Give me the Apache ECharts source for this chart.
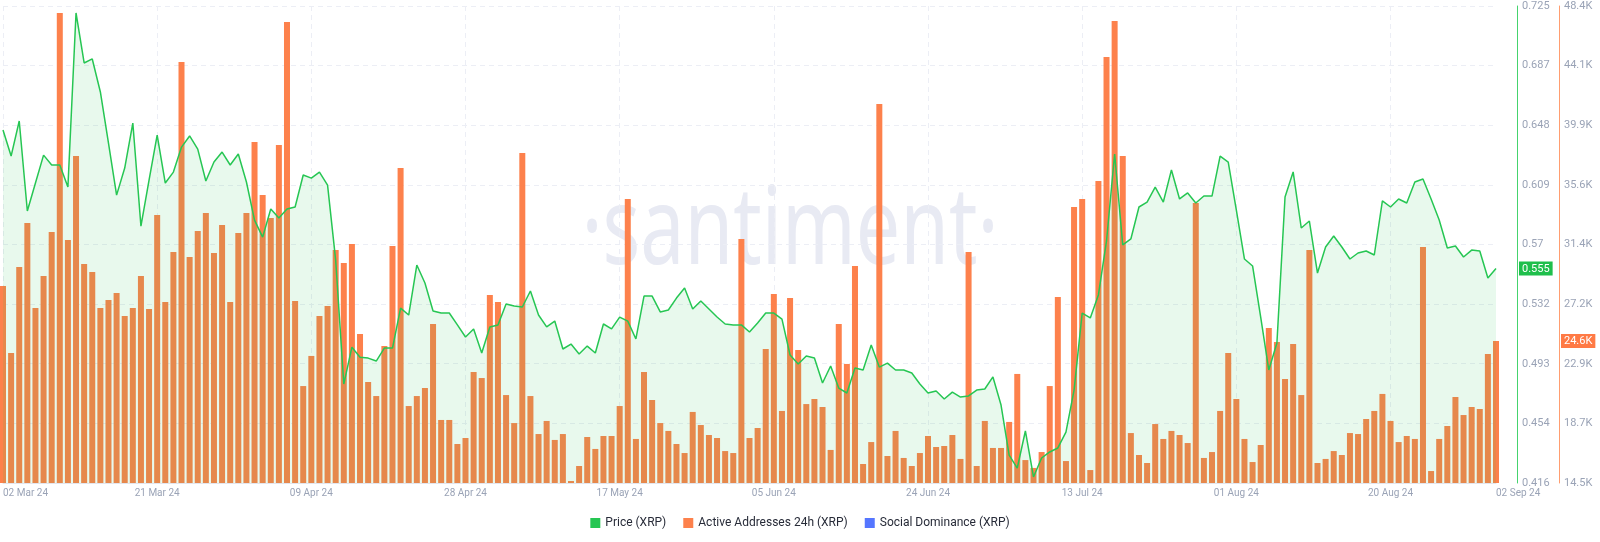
<!DOCTYPE html>
<html>
<head>
<meta charset="utf-8">
<script src="https://cdn.jsdelivr.net/npm/echarts@6/dist/echarts.min.js"></script>
<style>
html,body{margin:0;padding:0;background:#fff;}
#chart{width:1600px;height:542px;}
</style>
</head>
<body>
<div id="chart"></div>
<script>
// ---- data ----
const startDate = [2024, 2, 2]; // 02 Mar 2024 (month index 2)
const dayCount = 185;
const monthNames = ['Jan','Feb','Mar','Apr','May','Jun','Jul','Aug','Sep','Oct','Nov','Dec'];

const priceXRP = [
0.6447,0.6278,0.6505,0.5922,0.6103,0.6284,0.6220,0.6220,0.6077,0.7205,
0.6881,0.6907,0.6693,0.6362,0.6025,0.6200,0.6492,0.5824,0.6122,0.6414,
0.6103,0.6174,0.6336,0.6408,0.6323,0.6116,0.6239,0.6304,0.6220,0.6291,
0.6110,0.5863,0.5753,0.5935,0.5876,0.5935,0.5948,0.6155,0.6135,0.6174,
0.6090,0.5604,0.4801,0.5040,0.4975,0.4969,0.4950,0.5034,0.5034,0.5293,
0.5248,0.5572,0.5456,0.5274,0.5261,0.5261,0.5184,0.5106,0.5158,0.5002,
0.5171,0.5184,0.5320,0.5307,0.5300,0.5404,0.5248,0.5171,0.5209,0.5028,
0.5060,0.4996,0.5047,0.5002,0.5190,0.5158,0.5235,0.5209,0.5093,0.5371,
0.5371,0.5268,0.5281,0.5358,0.5423,0.5287,0.5339,0.5287,0.5235,0.5190,
0.5184,0.5184,0.5138,0.5196,0.5261,0.5261,0.5222,0.4989,0.4931,0.4983,
0.4970,0.4808,0.4918,0.4775,0.4743,0.4905,0.4892,0.5054,0.4911,0.4937,
0.4892,0.4892,0.4873,0.4801,0.4743,0.4756,0.4704,0.4749,0.4717,0.4724,
0.4762,0.4769,0.4847,0.4665,0.4341,0.4257,0.4497,0.4199,0.4322,0.4361,
0.4387,0.4490,0.4762,0.5261,0.5229,0.5378,0.5728,0.6291,0.5702,0.5741,
0.5948,0.5980,0.6077,0.5980,0.6188,0.6000,0.6039,0.5974,0.6019,0.6019,
0.6278,0.6239,0.5928,0.5611,0.5566,0.5235,0.4892,0.5067,0.6013,0.6175,
0.5812,0.5857,0.5520,0.5689,0.5760,0.5689,0.5611,0.5650,0.5663,0.5637,
0.5987,0.5948,0.6000,0.5974,0.6110,0.6129,0.6000,0.5864,0.5682,0.5695,
0.5624,0.5669,0.5663,0.5488,0.5550
];

const activeAddresses = [
28500,23740,29850,32980,26940,29210,32340,47900,31770,37740,
30060,29500,26940,27500,28000,26370,26940,29210,26870,33550,
27360,30920,44420,30560,32410,33690,30850,32840,27360,32270,
33690,38740,34970,33330,38520,47260,27430,21390,23530,26370,
27080,31060,30140,31490,25090,21680,20680,24240,31340,36890,
19970,20680,21250,25800,18980,18980,17270,17700,22390,21960,
27860,27360,20750,18760,37950,20680,17980,18910,17560,17980,
14640,15710,17770,16920,17840,17840,19970,34680,17630,22390,
20400,18760,18200,17270,16630,19550,18620,17910,17700,16770,
16630,31840,17700,18410,24020,27930,19620,27650,23950,20110,
20470,19900,16850,25800,22960,29920,15850,17410,41440,16420,
18200,16280,15710,16630,17840,17060,17130,17910,16210,30920,
15710,18910,16990,16990,18840,22250,16130,15570,16700,21390,
27720,16060,34120,34680,15420,35960,44780,47330,37740,18050,
16490,15920,18690,17630,18200,17910,17340,34400,16280,16700,
19620,23740,20470,17630,15990,17200,25520,24520,21890,24380,
20750,31060,15920,16210,16770,16490,18050,17980,19050,19620,
20830,18910,17410,17840,17630,31270,15350,17630,18550,20610,
19330,19900,19760,23670,24600
];

const socialDominance = [];

const priceTickLabels = ['0.416','0.454','0.493','0.532','0.57','0.609','0.648','0.687','0.725'];
const activeTickLabels = ['14.5K','18.7K','22.9K','27.2K','31.4K','35.6K','39.9K','44.1K','48.4K'];
const priceMin = 0.416, priceMax = 0.725;
const activeMin = 14500, activeMax = 48400;

// ---- categories (daily dates) ----
const dates = [];
for (let i = 0; i < dayCount; i++) {
  const d = new Date(Date.UTC(startDate[0], startDate[1], startDate[2] + i));
  const dd = String(d.getUTCDate()).padStart(2, '0');
  dates.push(dd + ' ' + monthNames[d.getUTCMonth()] + ' ' + String(d.getUTCFullYear()).slice(2));
}

const FONT = 'Roboto, "Noto Sans", Arial, sans-serif';
const GREEN = '#26c653';
const ORANGE = '#fd814c';
const BLUE = '#5576ff';
const AXIS_TEXT = '#9aa3b6';
const GRID = '#eceef5';

const priceInterval = (priceMax - priceMin) / 8;
const activeInterval = (activeMax - activeMin) / 8;

const chart = echarts.init(document.getElementById('chart'), null, {renderer: 'canvas'});

chart.setOption({
  animation: false,
  backgroundColor: '#ffffff',
  textStyle: {fontFamily: FONT},
  graphic: [{
    type: 'text',
    x: 790, y: 233,
    scaleX: 0.73,
    z: 0,
    silent: true,
    style: {
      text: '\u00B7santiment\u00B7',
      x: 0, y: 0,
      align: 'center', verticalAlign: 'middle',
      font: '400 108px "Noto Sans", sans-serif',
      fill: '#e8eaf3'
    }
  }],
  grid: {left: 0, right: 104, top: 6, bottom: 59, containLabel: false},
  legend: {
    top: 512, left: 'center',
    icon: 'rect', itemWidth: 10, itemHeight: 10, itemGap: 17,
    textStyle: {fontSize: 12, color: '#272b38', fontFamily: FONT},
    data: ['Price (XRP)', 'Active Addresses 24h (XRP)', 'Social Dominance (XRP)']
  },
  xAxis: {
    type: 'category',
    data: dates,
    boundaryGap: false,
    axisLine: {show: true, lineStyle: {color: '#e3e6ee'}},
    axisTick: {show: false},
    axisLabel: {
      interval: function (i) { return i % 19 === 0 || i === dayCount - 1; },
      color: AXIS_TEXT, fontSize: 10, margin: 5, fontFamily: FONT,
      alignMinLabel: 'left', alignMaxLabel: 'left'
    },
    splitLine: {
      show: true,
      interval: function (i) { return i % 19 === 0; },
      lineStyle: {color: GRID, type: [5, 4], width: 1}
    }
  },
  yAxis: [{
    type: 'value',
    position: 'right',
    offset: 21,
    min: priceMin, max: priceMax, interval: priceInterval,
    axisLine: {show: true, lineStyle: {color: '#45d36d', width: 1}},
    axisTick: {show: false},
    axisLabel: {
      color: AXIS_TEXT, fontSize: 11, margin: 5, fontFamily: FONT,
      formatter: function (v) { return priceTickLabels[Math.round((v - priceMin) / priceInterval)] || ''; }
    },
    splitLine: {show: true, lineStyle: {color: GRID, type: [5, 4], width: 1}},
    axisPointer: {
      show: true, type: 'line', status: 'show', triggerTooltip: false,
      value: priceXRP[priceXRP.length - 1],
      lineStyle: {opacity: 0, width: 0},
      label: {
        show: true, margin: 2, backgroundColor: '#1fbf4c', color: '#ffffff',
        fontSize: 11, padding: [2, 3, 1, 3], borderRadius: 0, fontFamily: FONT,
        formatter: function (p) { return Number(p.value).toFixed(3); }
      }
    }
  }, {
    type: 'value',
    position: 'right',
    offset: 63,
    min: activeMin, max: activeMax, interval: activeInterval,
    axisLine: {show: true, lineStyle: {color: '#ff9d70', width: 1}},
    axisTick: {show: false},
    axisLabel: {
      color: AXIS_TEXT, fontSize: 11, margin: 5, fontFamily: FONT,
      formatter: function (v) { return activeTickLabels[Math.round((v - activeMin) / activeInterval)] || ''; }
    },
    splitLine: {show: false},
    axisPointer: {
      show: true, type: 'line', status: 'show', triggerTooltip: false,
      value: activeAddresses[activeAddresses.length - 1],
      lineStyle: {opacity: 0, width: 0},
      label: {
        show: true, margin: 2, backgroundColor: '#ff7a45', color: '#ffffff',
        fontSize: 11, padding: [2, 3, 1, 3], borderRadius: 0, fontFamily: FONT,
        formatter: function (p) { return (Number(p.value) / 1000).toFixed(1) + 'K'; }
      }
    }
  }],
  series: [{
    name: 'Active Addresses 24h (XRP)',
    type: 'bar',
    yAxisIndex: 1,
    data: activeAddresses,
    barWidth: 6,
    itemStyle: {color: ORANGE},
    z: 2,
    clip: true
  }, {
    name: 'Price (XRP)',
    type: 'line',
    yAxisIndex: 0,
    data: priceXRP,
    symbol: 'none',
    lineStyle: {color: GREEN, width: 1.5},
    itemStyle: {color: GREEN},
    areaStyle: {color: 'rgba(38,198,83,0.15)', origin: 'start'},
    z: 3
  }, {
    name: 'Social Dominance (XRP)',
    type: 'line',
    yAxisIndex: 0,
    data: socialDominance,
    symbol: 'none',
    itemStyle: {color: BLUE},
    lineStyle: {color: BLUE}
  }]
});
</script>
</body>
</html>
